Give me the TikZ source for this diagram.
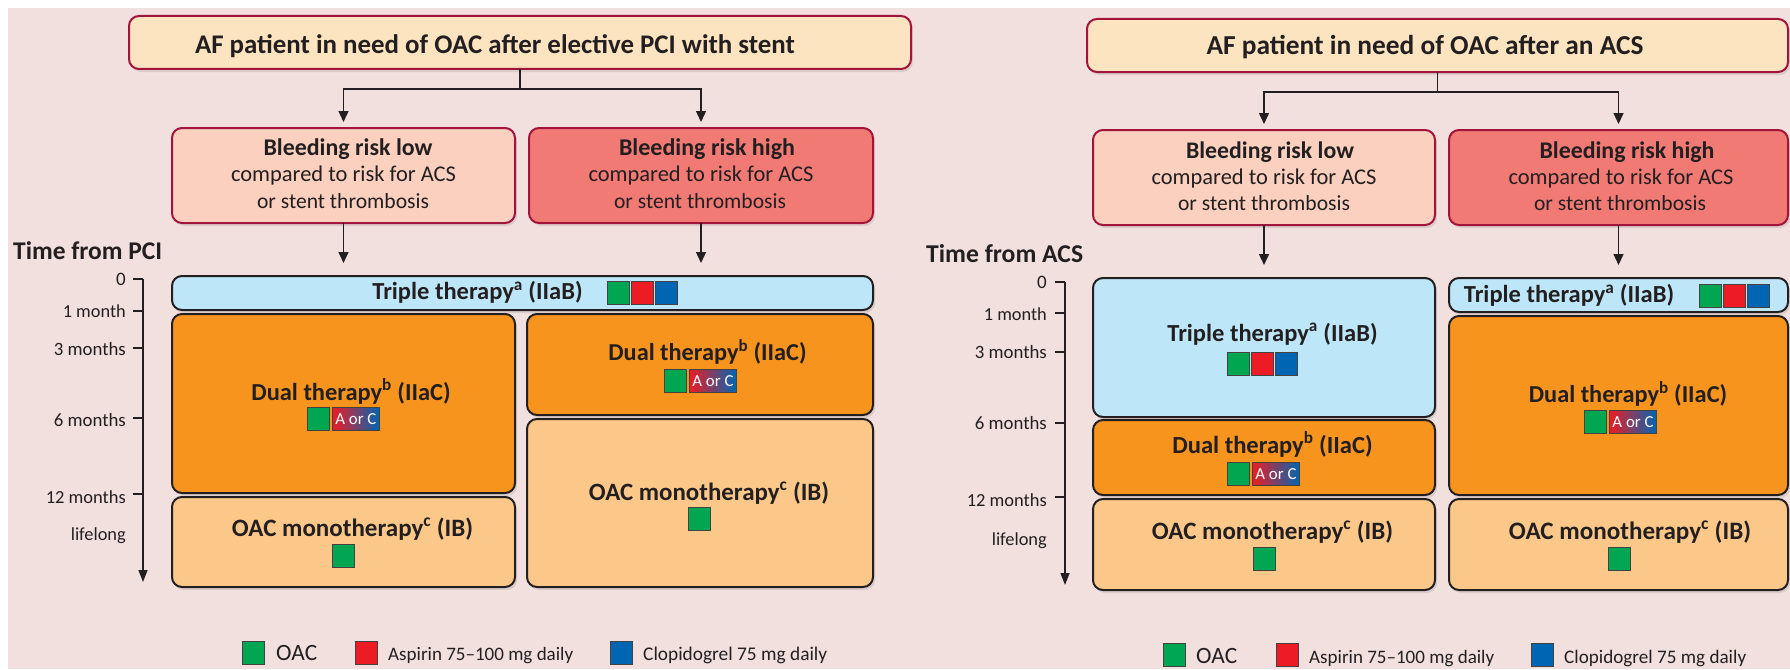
\documentclass[tikz,border=0pt]{standalone}
\usepackage{fontspec}
\setmainfont{Carlito}
\usetikzlibrary{arrows.meta,shadows}
\definecolor{bgp}{RGB}{242,224,223}
\definecolor{crim}{RGB}{163,20,60}
\definecolor{dk}{RGB}{35,31,32}
\definecolor{topf}{RGB}{253,228,193}
\definecolor{lowf}{RGB}{251,208,191}
\definecolor{highf}{RGB}{242,122,117}
\definecolor{trif}{RGB}{189,230,249}
\definecolor{dualf}{RGB}{247,148,30}
\definecolor{monof}{RGB}{252,200,138}
\definecolor{ogreen}{RGB}{0,166,81}
\definecolor{ared}{RGB}{237,28,36}
\definecolor{cblue}{RGB}{0,102,179}
\newcommand\mkbox[6]{\node[#2, minimum width={(#5)-(#3)}, minimum height={(#6)-(#4)}] (#1) at ({((#3)+(#5))/2},{((#4)+(#6))/2}) {};}
\newsavebox\fitbox
\newcommand\fitw[3]{\sbox\fitbox{#2\fontsize{10}{12}\selectfont #3}\pgfmathsetmacro\myfs{10*#1/\the\wd\fitbox}#2\fontsize{\myfs}{\myfs}\selectfont #3}
\begin{document}
\begin{tikzpicture}[x=1pt,y=-1pt,
 base/.style={rounded corners=10pt, line width=2pt, inner sep=0pt, outer sep=0pt,
   drop shadow={shadow xshift=2pt,shadow yshift=-3pt,opacity=0.2}},
 hbox/.style={base, draw=crim},
 tbox/.style={base, draw=dk},
 arr/.style={draw=dk, line width=1.4pt, -{Triangle[length=11pt,width=10pt]}},
 axisarr/.style={draw=dk, line width=1.4pt, -{Triangle[length=12pt,width=9pt]}},
 tick/.style={draw=dk, line width=2pt},
 lab/.style={inner sep=0pt, text=dk, anchor=base},
 axl/.style={lab, anchor=base east},
 leg/.style={lab, anchor=base west},
 sq/.style={draw=dk!85, line width=0.9pt, minimum width=22pt, minimum height=23pt, inner sep=0pt, anchor=north west},
 aoc/.style={sq, minimum width=47pt, left color=ared, right color=cblue, text=white}
]
\useasboundingbox (0,0) rectangle (1790,669);
\fill[white] (0,0) rectangle (1790,669);
\fill[bgp] (8,8) rectangle (1790,669);

% ---------------- LEFT PANEL ----------------
\mkbox{titleL}{hbox, fill=topf}{129}{16}{911}{69}
\node[lab] (titleLt) at (495,53) {\fitw{600}{\bfseries}{AF patient in need of OAC after elective PCI with stent}};
\mkbox{lowL}{hbox, fill=lowf}{172}{128}{515}{223}
\mkbox{highL}{hbox, fill=highf}{529}{128}{873}{223}
\node[lab] (lowL1) at (348,155.5) {\fitw{169}{\bfseries}{Bleeding risk low}};
\node[lab] (lowL2) at (343.5,181.5) {\fitw{225}{}{compared to risk for ACS}};
\node[lab] (lowL3) at (343,208) {\fitw{172}{}{or stent thrombosis}};
\node[lab] (highL1) at (707,155.5) {\fitw{176}{\bfseries}{Bleeding risk high}};
\node[lab] (highL2) at (701,181.5) {\fitw{225}{}{compared to risk for ACS}};
\node[lab] (highL3) at (700,208) {\fitw{172}{}{or stent thrombosis}};
\draw[arr, shorten >=6pt] (titleL.south) -- ++(0,20) -| (lowL.north);
\draw[arr, shorten >=6pt] (titleL.south) -- ++(0,20) -| (highL.north);

\mkbox{triL}{tbox, fill=trif}{172}{276}{873}{310}
\mkbox{dualLL}{tbox, fill=dualf}{172}{314}{515}{493}
\mkbox{dualLH}{tbox, fill=dualf}{527}{314}{873}{415}
\mkbox{monoLH}{tbox, fill=monof}{527}{419}{873}{587}
\mkbox{monoLL}{tbox, fill=monof}{172}{497}{515}{587}
\draw[arr, shorten >=13pt] (lowL.south) -- (lowL.south |- triL.north);
\draw[arr, shorten >=13pt] (highL.south) -- (highL.south |- triL.north);

\node[lab] (triLt) at (477.5,299.5) {\fitw{211}{\bfseries}{Triple therapy\textsuperscript{a} (IIaB)}};
\node[sq, fill=ogreen] (triLg) at (607,281) {};
\node[sq, fill=ared] (triLr) at (631,281) {};
\node[sq, fill=cblue] (triLb) at (655,281) {};
\node[lab] (dualLLt) at (351,400) {\fitw{200}{\bfseries}{Dual therapy\textsuperscript{b} (IIaC)}};
\node[sq, fill=ogreen] (dualLLg) at (307,407) {};
\node[aoc] (dualLLa) at (332,407) {\fitw{41}{}{A or C}};
\node[lab] (dualLHt) at (707.5,360.5) {\fitw{199}{\bfseries}{Dual therapy\textsuperscript{b} (IIaC)}};
\node[sq, fill=ogreen] (dualLHg) at (664,369) {};
\node[aoc] (dualLHa) at (689,369) {\fitw{41}{}{A or C}};
\node[lab] (monoLLt) at (352.5,536) {\fitw{242}{\bfseries}{OAC monotherapy\textsuperscript{c} (IB)}};
\node[sq, fill=ogreen] (monoLLg) at (332,544) {};
\node[lab] (monoLHt) at (709,500) {\fitw{241}{\bfseries}{OAC monotherapy\textsuperscript{c} (IB)}};
\node[sq, fill=ogreen] (monoLHg) at (688,507) {};

\node[lab, anchor=base west] (tfL) at (13,259) {\fitw{149}{\bfseries}{Time from PCI}};
\coordinate (axL0) at (143,279);
\coordinate (axLe) at (143,582);
\draw[axisarr] (axL0) -- (axLe);
\draw[tick, line width=1.4pt] (axL0) -- ++(-10,0);
\foreach \yy in {311,348,418,494} \draw[tick] (143,\yy) -- ++(-10,0);
\node[axl] (aL0) at (126,285) {\fontsize{19}{22}\selectfont 0};
\node[axl] (aL1) at (126,317) {\fitw{63}{}{1 month}};
\node[axl] (aL3) at (126,355) {\fitw{72}{}{3 months}};
\node[axl] (aL6) at (126,426) {\fitw{72}{}{6 months}};
\node[axl] (aL12) at (126,503) {\fitw{80}{}{12 months}};
\node[axl] (aLl) at (126,540) {\fitw{55}{}{lifelong}};

\node[sq, fill=ogreen] (legLg) at (242,641) {};
\node[leg] (legLgt) at (276,660) {\fitw{41}{}{OAC}};
\node[sq, fill=ared] (legLr) at (355,641) {};
\node[leg] (legLrt) at (388,660) {\fitw{185}{}{Aspirin 75–100 mg daily}};
\node[sq, fill=cblue] (legLb) at (610,641) {};
\node[leg] (legLbt) at (643,660) {\fitw{184}{}{Clopidogrel 75 mg daily}};

% ---------------- RIGHT PANEL ----------------
\mkbox{titleR}{hbox, fill=topf}{1087}{19}{1788}{72}
\node[lab] (titleRt) at (1425,55) {\fitw{437}{\bfseries}{AF patient in need of OAC after an ACS}};
\mkbox{lowR}{hbox, fill=lowf}{1093}{130}{1435}{225}
\mkbox{highR}{hbox, fill=highf}{1449}{130}{1788}{225}
\node[lab] (lowR1) at (1270,158) {\fitw{168}{\bfseries}{Bleeding risk low}};
\node[lab] (lowR2) at (1264,184) {\fitw{225}{}{compared to risk for ACS}};
\node[lab] (lowR3) at (1264,210.5) {\fitw{172}{}{or stent thrombosis}};
\node[lab] (highR1) at (1627,158) {\fitw{175}{\bfseries}{Bleeding risk high}};
\node[lab] (highR2) at (1621,184) {\fitw{225}{}{compared to risk for ACS}};
\node[lab] (highR3) at (1620,210.5) {\fitw{172}{}{or stent thrombosis}};
\draw[arr, shorten >=6pt] (titleR.south) -- ++(0,20) -| (lowR.north);
\draw[arr, shorten >=6pt] (titleR.south) -- ++(0,20) -| (highR.north);

\mkbox{triRL}{tbox, fill=trif}{1093}{278}{1435}{417}
\mkbox{dualRL}{tbox, fill=dualf}{1093}{420}{1435}{495}
\mkbox{monoRL}{tbox, fill=monof}{1093}{499}{1435}{590}
\mkbox{triRH}{tbox, fill=trif}{1449}{278}{1788}{312}
\mkbox{dualRH}{tbox, fill=dualf}{1449}{316}{1788}{495}
\mkbox{monoRH}{tbox, fill=monof}{1449}{499}{1788}{590}
\draw[arr, shorten >=13pt] (lowR.south) -- (triRL.north);
\draw[arr, shorten >=13pt] (highR.south) -- (triRH.north);

\node[lab] (triRLt) at (1272.5,341) {\fitw{211}{\bfseries}{Triple therapy\textsuperscript{a} (IIaB)}};
\node[sq, fill=ogreen] (triRLg) at (1227,352) {};
\node[sq, fill=ared] (triRLr) at (1251,352) {};
\node[sq, fill=cblue] (triRLb) at (1275,352) {};
\node[lab] (dualRLt) at (1272.5,453) {\fitw{201}{\bfseries}{Dual therapy\textsuperscript{b} (IIaC)}};
\node[sq, fill=ogreen] (dualRLg) at (1227,462) {};
\node[aoc] (dualRLa) at (1252,462) {\fitw{41}{}{A or C}};
\node[lab] (monoRLt) at (1272.5,539) {\fitw{242}{\bfseries}{OAC monotherapy\textsuperscript{c} (IB)}};
\node[sq, fill=ogreen] (monoRLg) at (1253,547) {};
\node[lab] (triRHt) at (1569,302.5) {\fitw{211}{\bfseries}{Triple therapy\textsuperscript{a} (IIaB)}};
\node[sq, fill=ogreen] (triRHg) at (1699,284) {};
\node[sq, fill=ared] (triRHr) at (1723,284) {};
\node[sq, fill=cblue] (triRHb) at (1747,284) {};
\node[lab] (dualRHt) at (1628,402.5) {\fitw{199}{\bfseries}{Dual therapy\textsuperscript{b} (IIaC)}};
\node[sq, fill=ogreen] (dualRHg) at (1584,410) {};
\node[aoc] (dualRHa) at (1609,410) {\fitw{41}{}{A or C}};
\node[lab] (monoRHt) at (1630,539) {\fitw{243}{\bfseries}{OAC monotherapy\textsuperscript{c} (IB)}};
\node[sq, fill=ogreen] (monoRHg) at (1608,547) {};

\node[lab, anchor=base west] (tfR) at (926,262.5) {\fitw{157}{\bfseries}{Time from ACS}};
\coordinate (axR0) at (1065,282);
\coordinate (axRe) at (1065,585);
\draw[axisarr] (axR0) -- (axRe);
\draw[tick, line width=1.4pt] (axR0) -- ++(-10,0);
\foreach \yy in {313,352,423,497} \draw[tick] (1065,\yy) -- ++(-10,0);
\node[axl] (aR0) at (1047,288) {\fontsize{19}{22}\selectfont 0};
\node[axl] (aR1) at (1047,320) {\fitw{63}{}{1 month}};
\node[axl] (aR3) at (1047,358) {\fitw{72}{}{3 months}};
\node[axl] (aR6) at (1047,429) {\fitw{72}{}{6 months}};
\node[axl] (aR12) at (1047,506.5) {\fitw{80}{}{12 months}};
\node[axl] (aRl) at (1047,545) {\fitw{55}{}{lifelong}};

\node[sq, fill=ogreen] (legRg) at (1163,643) {};
\node[leg] (legRgt) at (1196,663) {\fitw{41}{}{OAC}};
\node[sq, fill=ared] (legRr) at (1276,643) {};
\node[leg] (legRrt) at (1309,663) {\fitw{185}{}{Aspirin 75–100 mg daily}};
\node[sq, fill=cblue] (legRb) at (1531,643) {};
\node[leg] (legRbt) at (1564,663) {\fitw{182}{}{Clopidogrel 75 mg daily}};
\end{tikzpicture}
\end{document}
